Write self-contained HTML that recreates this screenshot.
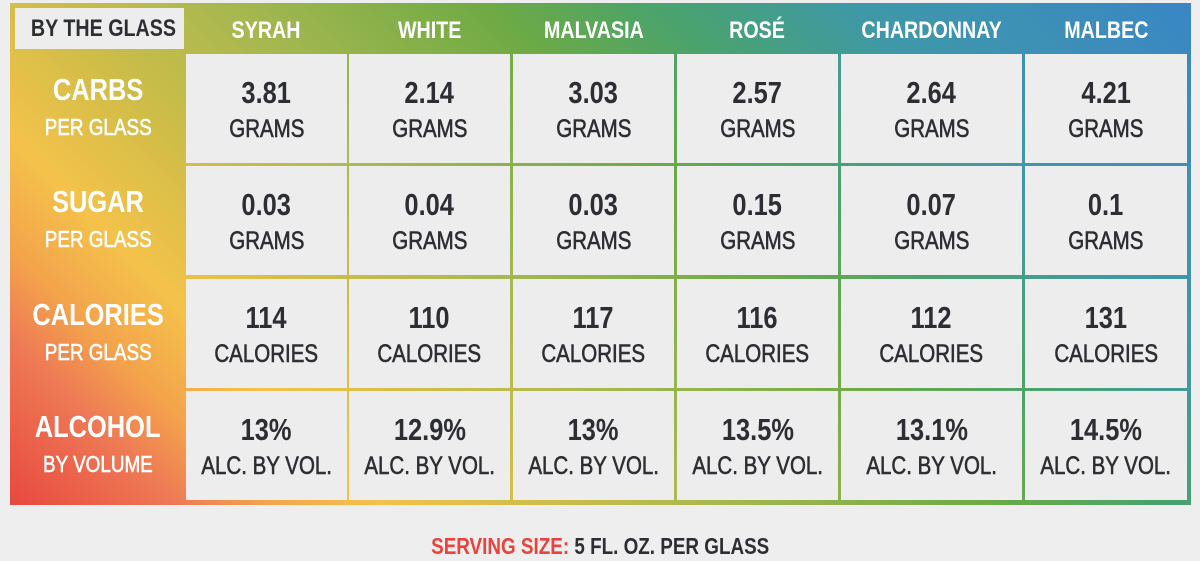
<!DOCTYPE html>
<html><head><meta charset="utf-8">
<style>
html,body{margin:0;padding:0;width:1200px;height:561px;background:#eeeeee;overflow:hidden;font-family:"Liberation Sans",sans-serif;}
#grad{position:absolute;left:10px;top:3px;width:1181px;height:502px;
background:linear-gradient(45deg,#e8483f 0%,#ee7a55 10%,#f3a24c 15%,#f4c24a 22%,#cdbd48 32%,#a9b850 42%,#6eaa45 58%,#4aa36c 68%,#3f98a8 80%,#3a86c6 100%);}
.n{display:inline-block;transform:scaleX(0.82);white-space:nowrap;}
.box{position:absolute;background:#ededed;}
.cell{position:absolute;background:#ededed;text-align:center;color:#2d2e33;}
.v{position:absolute;left:-20px;right:-20px;top:20px;font-size:31px;font-weight:bold;line-height:38px;}
.u{position:absolute;left:-20px;right:-20px;top:59px;font-size:25px;line-height:32px;-webkit-text-stroke:0.6px #2d2e33;}
.hd{position:absolute;top:10px;height:40px;line-height:42px;color:#fff;font-weight:bold;font-size:24px;text-align:center;white-space:nowrap;}
.lab{position:absolute;left:10px;width:176px;color:#fff;text-align:center;}
.l1{position:absolute;left:-20px;right:-20px;top:17px;font-size:31px;font-weight:bold;line-height:38px;}
.l2{position:absolute;left:-20px;right:-20px;top:58px;font-size:23px;line-height:30px;-webkit-text-stroke:0.6px #fff;}
#foot{position:absolute;left:0;right:0;top:533px;text-align:center;font-size:23px;font-weight:bold;color:#2d2e33;}
</style></head>
<body>
<div id="grad"></div>
<div class="box" style="left:15px;top:8px;width:169px;height:41px;line-height:42px;text-align:center;font-size:24px;font-weight:bold;color:#2d2e33;white-space:nowrap;"><span class="n">BY THE GLASS</span></div>
<div id="foot"><span class="n"><span style="color:#e8433d">SERVING SIZE:</span> 5 FL. OZ. PER GLASS</span></div>
<script>
const wines=["SYRAH","WHITE","MALVASIA","ROSÉ","CHARDONNAY","MALBEC"];
const metrics=["CARBS","SUGAR","CALORIES","ALCOHOL"];
const metricSubs=["PER GLASS","PER GLASS","PER GLASS","BY VOLUME"];
const units=["GRAMS","GRAMS","CALORIES","ALC. BY VOL."];
const carbs=["3.81","2.14","3.03","2.57","2.64","4.21"];
const sugar=["0.03","0.04","0.03","0.15","0.07","0.1"];
const calories=["114","110","117","116","112","131"];
const alcohol=["13%","12.9%","13%","13.5%","13.1%","14.5%"];
const values=[carbs,sugar,calories,alcohol];
const colX=[186,349,513,677,841,1025], colW=[161,161,161,161,181,162];
const rowY=[54,166,279,391], rowH=109;
wines.forEach((w,i)=>{
  const h=document.createElement('div');h.className='hd';
  h.style.left=colX[i]+'px';h.style.width=colW[i]+'px';
  h.innerHTML='<span class="n">'+w+'</span>';
  
  
  document.body.appendChild(h);
});
metrics.forEach((m,r)=>{
  const l=document.createElement('div');l.className='lab';
  l.style.top=rowY[r]+'px';l.style.height=rowH+'px';
  l.innerHTML='<div class="l1"><span class="n">'+m+'</span></div><div class="l2"><span class="n">'+metricSubs[r]+'</span></div>';
  
  
  document.body.appendChild(l);
  wines.forEach((w,i)=>{
    const c=document.createElement('div');c.className='cell';
    c.style.left=colX[i]+'px';c.style.width=colW[i]+'px';
    c.style.top=rowY[r]+'px';c.style.height=rowH+'px';
    c.innerHTML='<div class="v"><span class="n">'+values[r][i]+'</span></div><div class="u"><span class="n">'+units[r]+'</span></div>';
    
    
    document.body.appendChild(c);
  });
});
</script>
</body></html>
